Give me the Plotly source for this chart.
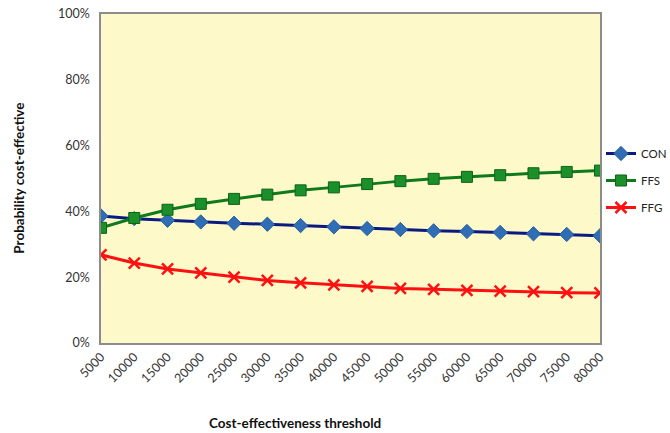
import plotly.graph_objects as go

# Willingness-to-pay thresholds (x axis)
thresholds = [5000, 10000, 15000, 20000, 25000, 30000, 35000, 40000,
              45000, 50000, 55000, 60000, 65000, 70000, 75000, 80000]

# Probability of being cost-effective, in percent
con = [38.6, 37.8, 37.3, 36.8, 36.4, 36.1, 35.7, 35.3,
       34.8, 34.5, 34.1, 33.9, 33.6, 33.2, 33.0, 32.6]
ffs = [35.0, 38.0, 40.5, 42.3, 43.8, 45.1, 46.4, 47.3,
       48.3, 49.2, 49.9, 50.5, 51.0, 51.6, 52.0, 52.4]
ffg = [26.8, 24.3, 22.5, 21.3, 20.0, 19.0, 18.3, 17.7,
       17.2, 16.6, 16.3, 16.0, 15.8, 15.6, 15.3, 15.2]

y_ticks = [0, 20, 40, 60, 80, 100]
y_tick_text = [f"{v}%" for v in y_ticks]

font_family = "Lato, 'Open Sans', sans-serif"

fig = go.Figure()
fig.add_trace(go.Scatter(
    x=thresholds, y=con, name="CON", mode="lines+markers", legendgroup="con",
    line=dict(color="#0b1a80", width=3),
    marker=dict(symbol="diamond", size=11, color="#2f6db5",
                line=dict(color="#2a5fa0", width=1)),
))
fig.add_trace(go.Scatter(
    x=thresholds, y=ffs, name="FFS", mode="lines+markers", legendgroup="ffs",
    line=dict(color="#0e7a1c", width=3),
    marker=dict(symbol="square", size=11, color="#1a8f2a",
                line=dict(color="#0d6316", width=1)),
))
fig.add_trace(go.Scatter(
    x=thresholds, y=ffg, name="FFG", mode="lines+markers", legendgroup="ffg",
    line=dict(color="#ff1010", width=3),
    marker=dict(symbol="x-thin", size=11, color="#ff1010",
                line=dict(color="#ff1010", width=2.5)),
))

fig.update_layout(
    width=670, height=433,
    margin=dict(l=101, r=70, t=14, b=90, autoexpand=False),
    paper_bgcolor="white",
    plot_bgcolor="#fef9c9",
    font=dict(family=font_family, size=12, color="#333333"),
    showlegend=True,
    legend=dict(xref="container", yref="container", x=0.897, y=0.679,
                xanchor="left", yanchor="top",
                bgcolor="rgba(0,0,0,0)", font=dict(size=11.5, color="#222222"),
                itemwidth=30, tracegroupgap=8),
    xaxis=dict(
        range=[5000, 80000], tickmode="array", tickvals=thresholds,
        ticktext=[str(t) for t in thresholds], tickangle=-45,
        showgrid=False, zeroline=False,
        showline=True, linecolor="#8c8c8c", linewidth=1.5, mirror=True,
        ticks="", tickfont=dict(size=12.5, color="#333333"),
        automargin=False,
    ),
    yaxis=dict(
        range=[0, 100], tickmode="array", tickvals=y_ticks, ticktext=y_tick_text,
        showgrid=False, zeroline=False,
        showline=True, linecolor="#8c8c8c", linewidth=1.5, mirror=True,
        ticks="", tickfont=dict(size=12.5, color="#333333"),
        ticklabelstandoff=7, automargin=False,
    ),
    annotations=[
        dict(text="<b>Probability cost-effective</b>", xref="paper", yref="paper",
             x=-0.166, y=0.5, textangle=-90, showarrow=False,
             font=dict(size=13.5, color="#111111"), xanchor="center", yanchor="middle"),
        dict(text="<b>Cost-effectiveness threshold</b>", xref="paper", yref="paper",
             x=0.389, y=-0.243, showarrow=False, xanchor="center", yanchor="middle",
             font=dict(size=13.5, color="#111111")),
    ],
)

fig.write_html("out.html")
